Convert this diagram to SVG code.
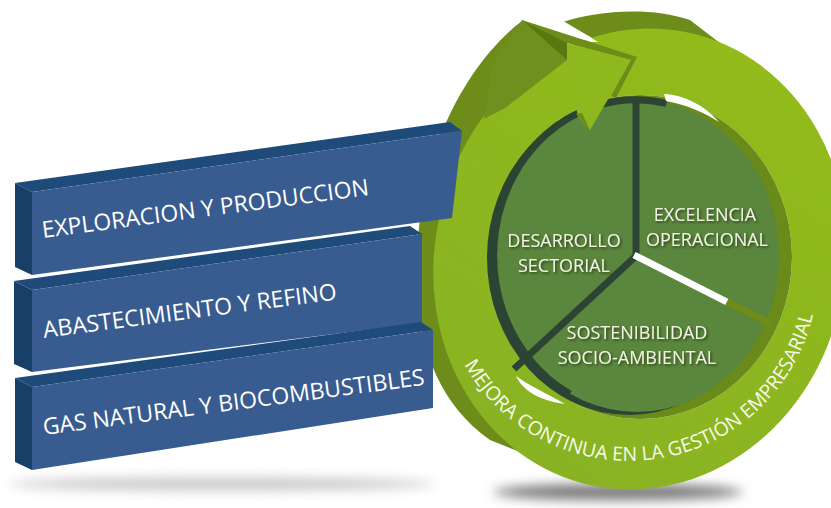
<svg xmlns="http://www.w3.org/2000/svg" width="831" height="508" viewBox="0 0 831 508">
  <style>
    .barText { font-family: "Open Sans", "Liberation Sans", sans-serif; font-size: 23px; fill: #ffffff; }
    .pieText { font-family: "Open Sans", "Liberation Sans", sans-serif; font-size: 18px; fill: #f1f4e4; text-anchor: middle; }
    .ringText { font-family: "Open Sans", "Liberation Sans", sans-serif; font-size: 19.5px; fill: #f6f9e8; }
    .bFront { fill: #395c90; }
    .bTop { fill: #1f4b7b; }
    .bSide { fill: #173f68; }
    .olive { fill: #6d8c19; }
    .oliveDark { fill: #5a7812; }
    .divider { stroke: #2b4434; stroke-width: 7; fill: none; }
  </style>
  <defs>
    <linearGradient id="bandGrad" x1="0.8" y1="0" x2="0.2" y2="1">
      <stop offset="0" stop-color="#93bb1b"/>
      <stop offset="1" stop-color="#88b223"/>
    </linearGradient>
    <filter id="blur" x="-20%" y="-200%" width="140%" height="500%">
      <feGaussianBlur stdDeviation="6"/>
    </filter>
    <filter id="txtShadow" x="-10%" y="-30%" width="120%" height="160%">
      <feDropShadow dx="1.5" dy="1.5" stdDeviation="1.2" flood-color="#1d2e16" flood-opacity="0.75"/>
    </filter>
    <path id="ringPath" d="M 457.7,351.9 A 189 189 0 0 0 815.1,304.8"/>
  </defs>

  <rect width="831" height="508" fill="#ffffff"/>

  <!-- ground shadows -->
  <g id="shadows">
    <ellipse cx="222" cy="484" rx="212" ry="6" fill="#c4c4c4" filter="url(#blur)"/>
    <ellipse cx="618" cy="492" rx="125" ry="8" fill="#767676" filter="url(#blur)"/>
  </g>

  <!-- circular arrow ring -->
  <g id="ring">
    <!-- olive outer side face -->
    <path class="olive" d="M 522,21 C 490,45 462,85 445,125 C 425,175 414,230 417,290 C 420,350 440,405 490,440 L 520,452 L 545,458 L 620,300 Z"/>
    <!-- olive top face of the tail -->
    <path class="olive" d="M 563,22 C 595,11 650,6 690,20 L 725,47 L 705,41 Q 652,24 596,40 Z"/>
    <!-- front band (annulus) -->
    <path fill="url(#bandGrad)" fill-rule="evenodd" d="M 840.5,301.6 A 205 228 12 1 0 439.5,216.4 A 205 228 12 1 0 840.5,301.6 Z M 488,257 A 152 162 0 1 1 792,257 A 152 162 0 1 1 488,257 Z"/>
    <!-- white notch between head and tail -->
    <polygon fill="#ffffff" points="561,21 565,22 598,42 591,42 562,33"/>
    <!-- inner side of hole -->
    <ellipse cx="640" cy="257" rx="152" ry="162" fill="#6a8a1a"/>
  </g>

  <!-- pie -->
  <g id="pie">
    <ellipse cx="629" cy="258" rx="142" ry="157" fill="#2b4434"/>
    <ellipse cx="637" cy="256" rx="142" ry="156" fill="#5b863e"/>
    <path class="divider" d="M 666.5,103.4 A 142 156 0 0 0 570,394" stroke-width="6"/>
    <path fill="#ffffff" d="M 664,94 C 685,95 705,106 719,122 C 705,113 688,105 666,101 Z"/>
    <path fill="#ffffff" d="M 516,376 C 522,390 540,401 565,404 C 546,393 528,385 516,376 Z"/>
    <g id="dividers">
      <line class="divider" x1="636" y1="256" x2="636" y2="100"/>
      <line class="divider" x1="636" y1="256" x2="514" y2="369"/>
      <line x1="634" y1="255" x2="727" y2="302" stroke="#ffffff" stroke-width="7"/>
      <line x1="727" y1="302" x2="771" y2="324" stroke="#6d8c19" stroke-width="7"/>
    </g>
  </g>

  <!-- arrow head -->
  <g id="arrowhead">
    <polygon fill="#6f8f1f" points="522,20 567,42 567,60 505,108 484,119 492,65"/>
    <polygon class="oliveDark" points="522,20 567,42 567,60"/>
    <polygon class="olive" points="522,20 637,57 631,60 567,43"/>
    <polygon fill="#8fb81e" points="567,43 631,60 590,130 578,117 567,60"/>
    <polygon class="olive" points="637,57 616,98 611,96 631,60"/>
    <polygon class="olive" points="576,114 590,130 582,113"/>
  </g>

  <g id="ring-label">
    <text class="ringText"><textPath href="#ringPath" startOffset="14">MEJORA CONTINUA EN LA GESTIÓN EMPRESARIAL</textPath></text>
  </g>

  <g id="sector-excelencia">
    <text class="pieText" x="705" y="221" filter="url(#txtShadow)">EXCELENCIA</text>
    <text class="pieText" x="707" y="246" filter="url(#txtShadow)">OPERACIONAL</text>
  </g>
  <g id="sector-desarrollo">
    <text class="pieText" x="564" y="247" filter="url(#txtShadow)">DESARROLLO</text>
    <text class="pieText" x="564" y="272" filter="url(#txtShadow)">SECTORIAL</text>
  </g>
  <g id="sector-sostenibilidad">
    <text class="pieText" x="637" y="339" filter="url(#txtShadow)">SOSTENIBILIDAD</text>
    <text class="pieText" x="637" y="364" filter="url(#txtShadow)">SOCIO-AMBIENTAL</text>
  </g>

  <!-- bars -->
  <g id="bar1">
    <polygon class="bTop" points="15,183 450,122 462,131 32,192"/>
    <polygon class="bSide" points="15,183 32,192 32,275 15,267"/>
    <polygon class="bFront" points="32,192 462,131 452,218 32,275"/>
    <text class="barText" transform="translate(43,238) rotate(-7.5)">EXPLORACION Y PRODUCCION</text>
  </g>
  <g id="bar2">
    <polygon class="bTop" points="14,281 410,226 422,234 32,290"/>
    <polygon class="bSide" points="14,281 32,290 32,372 14,364"/>
    <polygon class="bFront" points="32,290 422,234 422,323 32,372"/>
    <text class="barText" transform="translate(44,338) rotate(-7.5)">ABASTECIMIENTO Y REFINO</text>
  </g>
  <g id="bar3">
    <polygon class="bTop" points="15,378 421,322 433,330 32,387"/>
    <polygon class="bSide" points="15,378 32,387 32,470 15,462"/>
    <polygon class="bFront" points="32,387 433,330 433,408 32,470"/>
    <text class="barText" transform="translate(44,435) rotate(-7.5)">GAS NATURAL Y BIOCOMBUSTIBLES</text>
  </g>
</svg>
